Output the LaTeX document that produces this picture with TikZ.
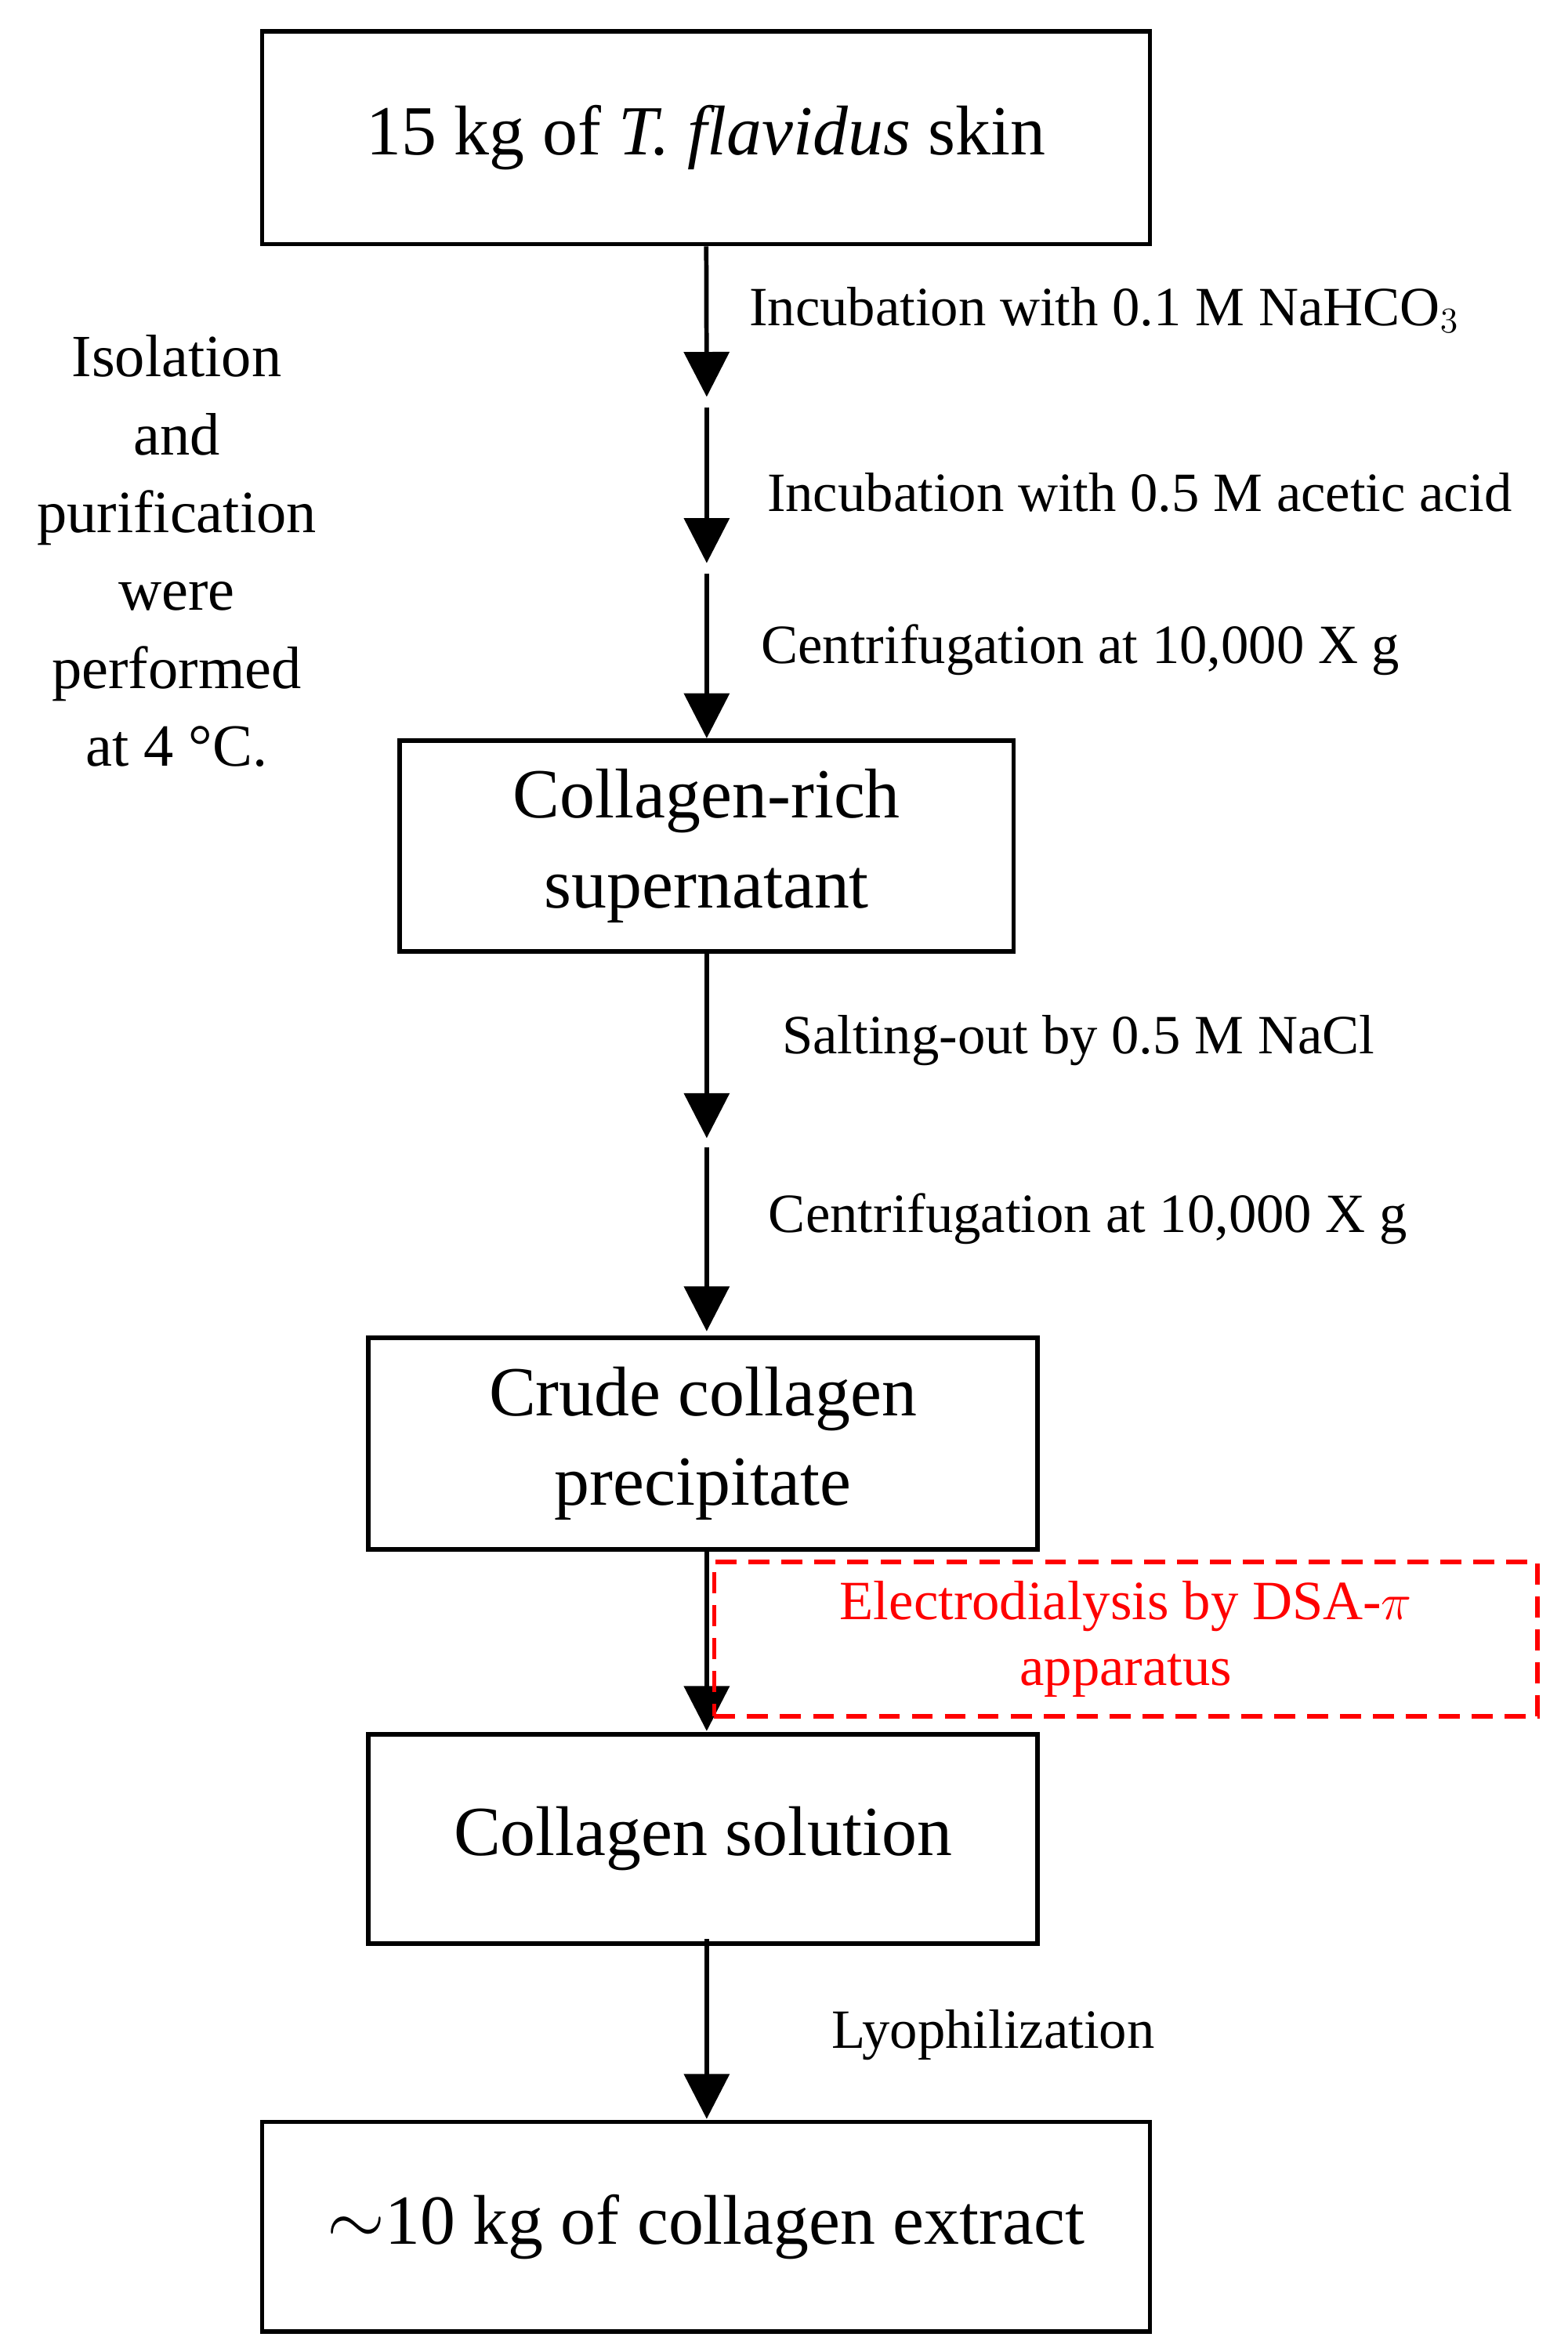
\documentclass[tikz,border=0pt]{standalone}
\usepackage{fontspec}
\setmainfont{Liberation Serif}
\usetikzlibrary{arrows.meta}
\begin{document}
\begin{tikzpicture}[x=0.5pt,y=-0.5pt,
 box/.style={draw,line width=1.5pt,inner sep=0pt,align=center,font=\fontsize{23.5}{30}\selectfont},
 arr/.style={line width=1.5pt,-{Triangle[length=15pt,width=15pt]}},
 lab/.style={anchor=west,font=\fontsize{18.5}{22}\selectfont,inner sep=0pt}]
\useasboundingbox (0,0) rectangle (1047,1568);
\node[box,minimum width=296.5pt,minimum height=71pt] (b1) at (471.5,92) {15 kg of \textit{T. flavidus} skin};
\node[box,minimum width=205pt,minimum height=70.5pt] (b2) at (472,565) {Collagen-rich\\supernatant};
\node[box,minimum width=223.5pt,minimum height=70.5pt] (b3) at (469.5,964) {Crude collagen\\precipitate};
\node[box,minimum width=223.5pt,minimum height=70pt] (b4) at (469.5,1228) {Collagen solution};
\node[box,minimum width=296.5pt,minimum height=70pt] (b5) at (471.5,1487) {$\sim$10 kg of collagen extract};
\coordinate (a1) at (472,265); \coordinate (a1s) at (472,272);
\coordinate (a2) at (472,376); \coordinate (a2s) at (472,383);
\coordinate (a4) at (472,760); \coordinate (a4s) at (472,766);
\coordinate (c3) at (472,1033); \coordinate (c4) at (472,1156);
\coordinate (c5) at (472,1295); \coordinate (c6) at (472,1415);
\draw[arr] (b1) -- (a1);
\draw[arr] (a1s) -- (a2);
\draw[arr] (a2s) -- (b2);
\draw[arr] (b2) -- (a4);
\draw[arr] (a4s) -- (472,889);
\draw[arr] (c3) -- (c4);
\draw[arr] (c5) -- (c6);
\node[lab] (l1) at (500,207) {Incubation with 0.1 M NaHCO$_3$};
\node[lab] (l2) at (512,329) {Incubation with 0.5 M acetic acid};
\node[lab] (l3) at (508,434) {Centrifugation at 10,000 X g};
\node[lab] (l4) at (522,695) {Salting-out by 0.5 M NaCl};
\node[lab] (l5) at (513,814) {Centrifugation at 10,000 X g};
\node[lab] (l6) at (555,1359) {Lyophilization};
\node[draw=red,dashed,line width=1.5pt,dash pattern=on 7pt off 4pt,minimum width=275pt,minimum height=51.5pt,inner sep=0pt,align=center,text=red,font=\fontsize{18.5}{22}\selectfont] (r) at (752,1094.5) {Electrodialysis by DSA-$\pi$\\apparatus};
\node[align=center,font=\fontsize{20}{26}\selectfont] (iso) at (118,368) {Isolation\\and\\purification\\were\\performed\\at 4 \textdegree C.};
\end{tikzpicture}
\end{document}
